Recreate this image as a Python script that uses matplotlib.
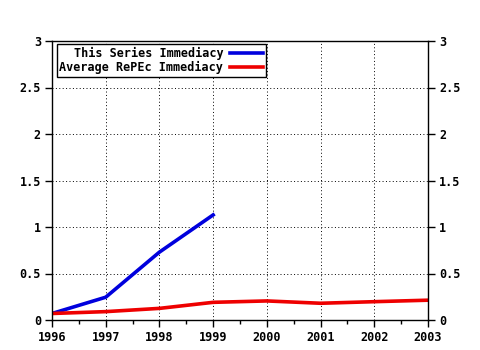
import numpy as np
import matplotlib
matplotlib.use("Agg")
import matplotlib.pyplot as plt
from matplotlib.ticker import MultipleLocator

# data
years_series = [1996, 1997, 1998, 1999]
series_immediacy = [0.07, 0.245, 0.73, 1.13]

years_repec = [1996, 1997, 1998, 1999, 2000, 2001, 2002, 2003]
repec_immediacy = [0.07, 0.09, 0.125, 0.19, 0.205, 0.18, 0.197, 0.213]

xticks = [1996, 1997, 1998, 1999, 2000, 2001, 2002, 2003]
yticks = [0, 0.5, 1, 1.5, 2, 2.5, 3]
ytick_labels = ["0", "0.5", "1", "1.5", "2", "2.5", "3"]

plt.rcParams['font.family'] = ['DejaVu Sans Mono']
plt.rcParams['font.weight'] = 'bold'
plt.rcParams['font.size'] = 8.5

fig = plt.figure(figsize=(4.8, 3.5), dpi=100)
ax = fig.add_axes([52/480, 30/350, 376/480, 279/350])

ax.plot(years_series, series_immediacy, color='#0000dd', lw=2.6, label='This Series Immediacy')
ax.plot(years_repec, repec_immediacy, color='#ee0000', lw=2.6, label='Average RePEc Immediacy')

ax.set_xlim(1996, 2003)
ax.set_ylim(0, 3)
ax.set_xticks(xticks)
ax.set_xticklabels([str(x) for x in xticks])
ax.set_yticks(yticks)
ax.set_yticklabels(ytick_labels)
ax.xaxis.set_minor_locator(MultipleLocator(0.5))

# fine dotted grid like gnuplot
ax.grid(True, color='black', linestyle=(0, (1, 2.5)), linewidth=0.7)
ax.tick_params(axis='both', which='major', direction='out', length=5, width=1, color='black', pad=3)
ax.tick_params(axis='x', which='minor', direction='out', length=3, width=1)
ax.tick_params(axis='y', right=True, labelright=True)
for s in ax.spines.values():
    s.set_linewidth(1)
    s.set_color('black')

leg = ax.legend(loc='upper left', bbox_to_anchor=(0.012, 0.99), markerfirst=False,
                frameon=True, fancybox=False, handlelength=2.8, handletextpad=0.6,
                borderpad=0.25, labelspacing=0.1, borderaxespad=0.0,
                prop={'family': 'DejaVu Sans Mono', 'weight': 'bold', 'size': 8.5})
leg.get_frame().set_edgecolor('black')
leg.get_frame().set_linewidth(1)
leg.get_frame().set_alpha(1)
leg._legend_box.align = 'right'

fig.savefig('out.png', dpi=100)
